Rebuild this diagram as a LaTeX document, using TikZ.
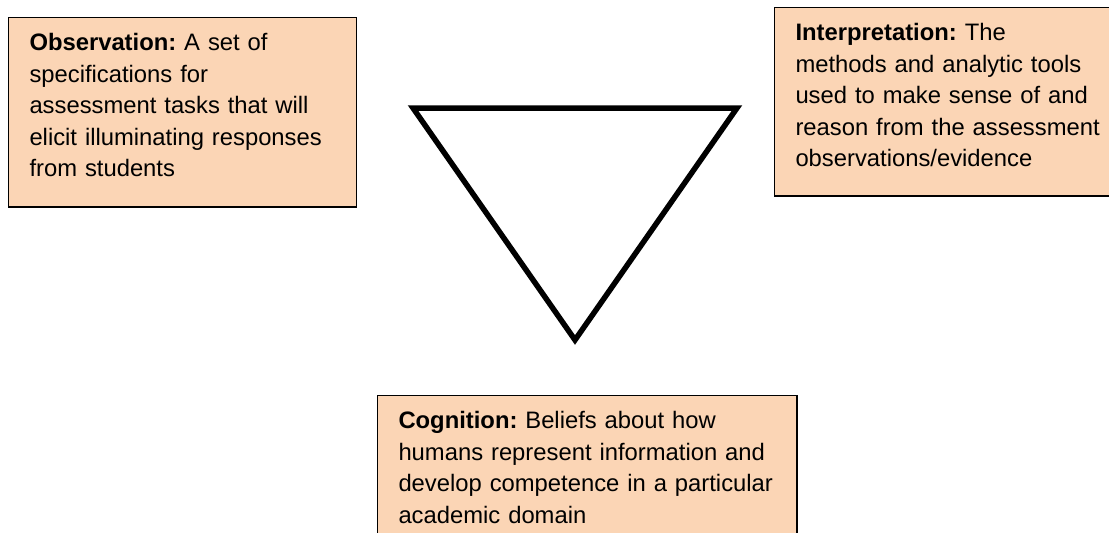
\documentclass[tikz,border=0pt]{standalone}
\usepackage{fontspec}
\setmainfont{Liberation Sans}
\usepackage{xcolor}
\definecolor{peach}{HTML}{FBD5B5}
\usetikzlibrary{positioning}
\frenchspacing
\hyphenpenalty=10000
\tikzset{
  facet/.style = {draw=black, fill=peach, line width=1.5pt, anchor=north west,
    align=left, text width=#1, inner xsep=21pt, inner ysep=16pt,
    text height=17pt, font=\fontsize{23.8}{31.6}\selectfont},
  tri/.style = {draw=black, line width=5.5pt, miter limit=20}
}
\begin{document}
\begin{tikzpicture}[x=1pt,y=-1pt]
\useasboundingbox (0,0) rectangle (1109,533);
\clip (0,0) rectangle (1109,533);
\node [facet=306pt, text depth=140.5pt] (obs) at (7.75,16.75)
  {\textbf{Observation:} A set of\\ specifications for\\ assessment tasks that will\\
   elicit illuminating responses\\ from students};
\node [facet=340pt, text depth=139.5pt] (interp) at (773.75,6.75)
  {\textbf{Interpretation:} The\\ methods and analytic tools\\ used to make sense of and\\
   reason from the assessment\\ observations/evidence};
\node [facet=377.5pt, text depth=160pt] (cog) at (376.75,394.75)
  {\textbf{Cognition:} Beliefs about how\\ humans represent information and\\
   \mbox{develop competence in a particular}\\ academic domain};
\coordinate (tl) at (413,108);
\coordinate (tr) at (737,108);
\coordinate (bt) at (575,340);
\draw [tri] (tl) -- (tr) -- (bt) -- cycle;
\end{tikzpicture}
\end{document}
